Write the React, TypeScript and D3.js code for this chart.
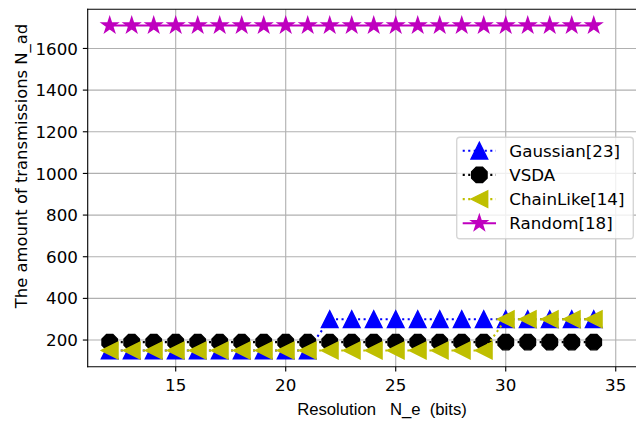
import React from "react";
import * as d3 from "d3";

// Resolution N_e (bits) on the x axis
const resolutionBits = d3.range(12, 35);

// Number of transmissions N_ad for each method
const gaussian = [150, 150, 150, 150, 150, 150, 150, 150, 150, 150, 300, 300, 300, 300, 300, 300, 300, 300, 300, 300, 300, 300, 300];
const vsda = [190, 190, 190, 190, 190, 190, 190, 190, 190, 190, 190, 190, 190, 190, 190, 190, 190, 190, 190, 190, 190, 190, 190];
const chainLike = [150, 150, 150, 150, 150, 150, 150, 150, 150, 150, 150, 150, 150, 150, 150, 150, 150, 150, 300, 300, 300, 300, 300];
const random = [1710, 1710, 1710, 1710, 1710, 1710, 1710, 1710, 1710, 1710, 1710, 1710, 1710, 1710, 1710, 1710, 1710, 1710, 1710, 1710, 1710, 1710, 1710];

const xTicks = [15, 20, 25, 30, 35];
const yTicks = [200, 400, 600, 800, 1000, 1200, 1400, 1600];

const seriesNames = ["Gaussian[23]", "VSDA", "ChainLike[14]", "Random[18]"];

type Marker = "triangleUp" | "octagon" | "triangleLeft" | "star";

const W = 636;
const H = 421;
const plot = { left: 87.7, right: 641.7, top: 9.3, bottom: 366.7 };

const FS = 16.7;
const LW = 2.08;
const MS = 16.7;
const R = MS / 2;

function markerPath(kind: Marker, r: number): string {
  let pts: [number, number][] = [];
  if (kind === "triangleUp") {
    pts = [[0, -r], [-r, r], [r, r]];
  } else if (kind === "triangleLeft") {
    pts = [[-r, 0], [r, -r], [r, r]];
  } else if (kind === "octagon") {
    for (let k = 0; k < 8; k++) {
      const a = ((90 + 22.5 + k * 45) * Math.PI) / 180;
      pts.push([r * Math.cos(a), -r * Math.sin(a)]);
    }
  } else {
    const inner = r * 0.381966;
    for (let k = 0; k < 10; k++) {
      const a = ((90 + k * 36) * Math.PI) / 180;
      const rr = k % 2 === 0 ? r : inner;
      pts.push([rr * Math.cos(a), -rr * Math.sin(a)]);
    }
  }
  return "M" + pts.map((p) => `${p[0].toFixed(3)},${p[1].toFixed(3)}`).join("L") + "Z";
}

const series: { name: string; values: number[]; color: string; dash: string | null; marker: Marker }[] = [
  { name: seriesNames[0], values: gaussian, color: "#0000ff", dash: `${LW} ${LW * 1.65}`, marker: "triangleUp" },
  { name: seriesNames[1], values: vsda, color: "#000000", dash: `${LW} ${LW * 1.65}`, marker: "octagon" },
  { name: seriesNames[2], values: chainLike, color: "#bfbf00", dash: `${LW} ${LW * 1.65}`, marker: "triangleLeft" },
  { name: seriesNames[3], values: random, color: "#bf00bf", dash: null, marker: "star" },
];

export default function App() {
  const x = d3.scaleLinear().domain([11, 36.18]).range([plot.left, plot.right]);
  const y = d3.scaleLinear().domain([72, 1788]).range([plot.bottom, plot.top]);

  const line = d3
    .line<[number, number]>()
    .x((d) => x(d[0]))
    .y((d) => y(d[1]));

  const tickLen = 4.86;
  const dejavu = "'DejaVu Sans', sans-serif";

  const legend = { left: 456.7, top: 137.3, right: 633.3, bottom: 238.7 };
  const rowY0 = 150.7;
  const rowStep = 24.2;
  const handleX0 = 462.7;
  const handleX1 = 496;
  const textX = 509.3;

  return (
    <svg width={W} height={H} style={{ position: "absolute", left: 0, top: 0, background: "#fff" }}>
      <rect x={0} y={0} width={W} height={H} fill="#fff" />
      <defs>
        <clipPath id="plotArea">
          <rect x={plot.left} y={plot.top} width={plot.right - plot.left} height={plot.bottom - plot.top} />
        </clipPath>
      </defs>

      {/* grid */}
      <g stroke="#b0b0b0" strokeWidth={1.11}>
        {xTicks.map((t) => (
          <line key={"gx" + t} x1={x(t)} x2={x(t)} y1={plot.top} y2={plot.bottom} />
        ))}
        {yTicks.map((t) => (
          <line key={"gy" + t} x1={plot.left} x2={plot.right} y1={y(t)} y2={y(t)} />
        ))}
      </g>

      {/* series */}
      <g clipPath="url(#plotArea)">
        {series.map((s) => {
          const pts = resolutionBits.map((b, i) => [b, s.values[i]] as [number, number]);
          const mp = markerPath(s.marker, R);
          return (
            <g key={s.name}>
              <path
                d={line(pts) || ""}
                fill="none"
                stroke={s.color}
                strokeWidth={LW}
                strokeDasharray={s.dash || undefined}
              />
              {pts.map((p, i) => (
                <path
                  key={i}
                  d={mp}
                  transform={`translate(${x(p[0])},${y(p[1])})`}
                  fill={s.color}
                  stroke={s.color}
                  strokeWidth={1.39}
                />
              ))}
            </g>
          );
        })}
      </g>

      {/* spines */}
      <g stroke="#000" strokeWidth={1.11} fill="none">
        <line x1={plot.left} x2={plot.left} y1={plot.top} y2={plot.bottom} strokeLinecap="square" />
        <line x1={plot.left} x2={plot.right} y1={plot.bottom} y2={plot.bottom} strokeLinecap="square" />
        <line x1={plot.left} x2={plot.right} y1={plot.top} y2={plot.top} strokeLinecap="square" />
        <line x1={plot.right} x2={plot.right} y1={plot.top} y2={plot.bottom} />
      </g>

      {/* x ticks */}
      <g>
        {xTicks.map((t) => (
          <g key={"xt" + t}>
            <line x1={x(t)} x2={x(t)} y1={plot.bottom} y2={plot.bottom + tickLen} stroke="#000" strokeWidth={1.11} />
            <text x={x(t)} y={plot.bottom + 23.8} textAnchor="middle" fontFamily={dejavu} fontSize={FS} fill="#000">
              {t}
            </text>
          </g>
        ))}
      </g>

      {/* y ticks */}
      <g>
        {yTicks.map((t) => (
          <g key={"yt" + t}>
            <line x1={plot.left - tickLen} x2={plot.left} y1={y(t)} y2={y(t)} stroke="#000" strokeWidth={1.11} />
            <text x={plot.left - tickLen - 4.86} y={y(t) + 6.1} textAnchor="end" fontFamily={dejavu} fontSize={FS} fill="#000">
              {t}
            </text>
          </g>
        ))}
      </g>

      {/* axis labels */}
      <text
        x={382}
        y={415}
        textAnchor="middle"
        fontFamily="'Liberation Sans', Arial, sans-serif"
        fontSize={FS}
        fill="#000"
        style={{ whiteSpace: "pre" }}
      >
        {"Resolution   N_e  (bits)"}
      </text>
      <text
        transform="translate(27,166) rotate(-90)"
        textAnchor="middle"
        fontFamily={dejavu}
        fontSize={16.4}
        fill="#000"
      >
        The amount of transmissions N_ad
      </text>

      {/* legend */}
      <g>
        <rect
          x={legend.left}
          y={legend.top}
          width={legend.right - legend.left}
          height={legend.bottom - legend.top}
          rx={3.3}
          ry={3.3}
          fill="#fff"
          fillOpacity={0.8}
          stroke="#cccccc"
          strokeOpacity={0.8}
          strokeWidth={1.39}
        />
        {series.map((s, i) => {
          const cy = rowY0 + i * rowStep;
          return (
            <g key={"lg" + s.name}>
              <line
                x1={handleX0}
                x2={handleX1}
                y1={cy}
                y2={cy}
                stroke={s.color}
                strokeWidth={LW}
                strokeDasharray={s.dash || undefined}
              />
              <path
                d={markerPath(s.marker, R)}
                transform={`translate(${(handleX0 + handleX1) / 2},${cy})`}
                fill={s.color}
                stroke={s.color}
                strokeWidth={1.39}
              />
              <text x={textX} y={cy + 6.1} fontFamily={dejavu} fontSize={FS} fill="#000">
                {s.name}
              </text>
            </g>
          );
        })}
      </g>
    </svg>
  );
}
